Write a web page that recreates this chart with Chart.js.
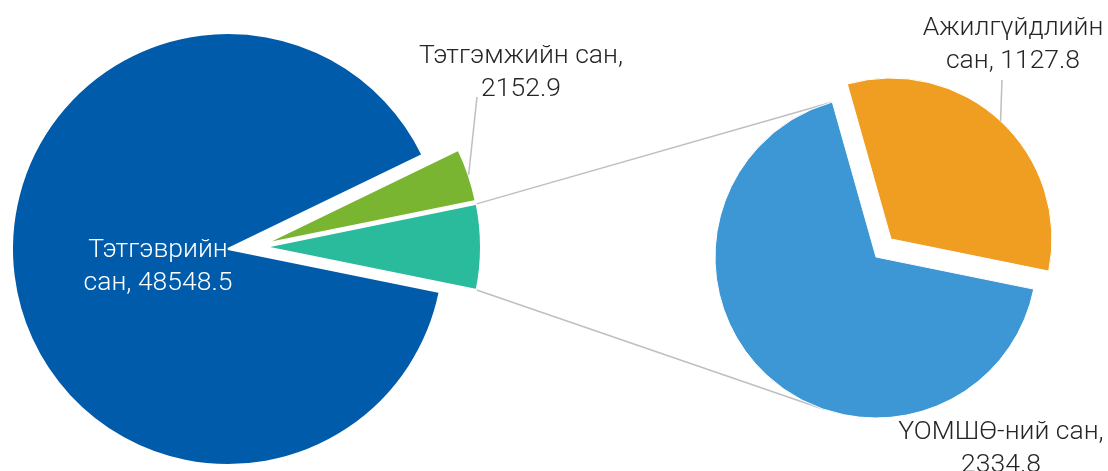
<!DOCTYPE html>
<html lang="mn">
<head>
<meta charset="UTF-8">
<title>Сангийн зарлага</title>
<script src="https://cdn.jsdelivr.net/npm/chart.js@4.4.1/dist/chart.umd.min.js"></script>
<style>
  body { margin: 0; background: #fff; }
  #wrap { position: relative; width: 1108px; height: 471px; }
  canvas { position: absolute; left: 0; top: 0; }
</style>
</head>
<body>
<div id="wrap">
  <canvas id="main" width="1108" height="471"></canvas>
  <canvas id="sub" width="1108" height="471"></canvas>
</div>
<script>
// main pie
const mainLabels = ['Тэтгэврийн сан', 'Тэтгэмжийн сан'];
const mainValues = [48548.5, 2152.9];
// second pie (the "other" slice of the main pie)
const subLabels = ['Ажилгүйдлийн сан', 'ҮОМШӨ-ний сан'];
const subValues = [1127.8, 2334.8];

const otherValue = subValues.reduce((a, b) => a + b, 0);

const FONT = '300 26.5px Roboto';
const TEXT = '#262626';
const LINE = '#bfbfbf';

// move exploded slices away from the centre
const explode = {
  id: 'explode',
  afterDatasetUpdate(chart, args, opts) {
    chart.getDatasetMeta(0).data.forEach((arc, i) => {
      const d = opts.shift[i] || [0, 0];
      arc.x += d[0];
      arc.y += d[1];
    });
  }
};

function edgePoint(arc, angle) {
  return { x: arc.x + Math.cos(angle) * arc.outerRadius, y: arc.y + Math.sin(angle) * arc.outerRadius };
}

// data labels, wrapped like excel does it
const sliceLabels = {
  id: 'sliceLabels',
  afterDraw(chart, args, opts) {
    const ctx = chart.ctx;
    const meta = chart.getDatasetMeta(0);
    ctx.save();
    ctx.font = FONT;
    ctx.textAlign = 'center';
    opts.items.forEach(it => {
      const arc = meta.data[it.index];
      if (it.leader) {
        const mid = (arc.startAngle + arc.endAngle) / 2;
        const p = edgePoint(arc, mid);
        ctx.strokeStyle = LINE;
        ctx.lineWidth = 1.5;
        ctx.beginPath();
        ctx.moveTo(p.x, p.y);
        ctx.lineTo(it.leader[0], it.leader[1]);
        ctx.stroke();
      }
      const words = (chart.data.labels[it.index] + ', ' + chart.data.datasets[0].data[it.index].toFixed(1)).split(' ');
      const lines = [words.slice(0, it.split).join(' '), words.slice(it.split).join(' ')];
      ctx.fillStyle = it.color || TEXT;
      lines.forEach((l, k) => ctx.fillText(l, it.x, it.y + k * 33));
    });
    ctx.restore();
  }
};

const mainChart = new Chart(document.getElementById('main'), {
  type: 'pie',
  data: {
    labels: [...mainLabels, 'Бусад'],
    datasets: [{
      data: [...mainValues, otherValue],
      backgroundColor: ['#005BAA', '#7AB532', '#29BB9C'],
      borderColor: '#fff',
      borderWidth: 2,
      radius: 216
    }]
  },
  options: {
    responsive: false,
    animation: false,
    events: [],
    rotation: 101.5,
    layout: { padding: { left: 0, top: 33, right: 652, bottom: 6 } },
    plugins: {
      legend: { display: false },
      tooltip: { enabled: false },
      explode: { shift: [[0, 0], [36, -5], [37, -2]] },
      sliceLabels: {
        items: [
          { index: 0, split: 1, x: 158, y: 257, color: '#fff' },
          { index: 1, split: 2, x: 521, y: 63, leader: [477, 97] }
        ]
      }
    }
  },
  plugins: [explode, sliceLabels]
});

// lines from the "other" slice to the second pie, tangent to it
const connectors = {
  id: 'connectors',
  beforeDatasetsDraw(chart) {
    const other = mainChart.getDatasetMeta(0).data[2];
    const base = chart.getDatasetMeta(0).data[1];
    const c = { x: base.x, y: base.y }, r = base.outerRadius;
    const ctx = chart.ctx;
    ctx.save();
    ctx.strokeStyle = LINE;
    ctx.lineWidth = 1.5;
    [[other.startAngle, -1], [other.endAngle, 1]].forEach(([a, side]) => {
      const p = edgePoint(other, a);
      const d = Math.hypot(c.x - p.x, c.y - p.y);
      const phi = Math.atan2(c.y - p.y, c.x - p.x) + side * Math.asin(r / d);
      const len = Math.sqrt(d * d - r * r);
      ctx.beginPath();
      ctx.moveTo(p.x, p.y);
      ctx.lineTo(p.x + Math.cos(phi) * len, p.y + Math.sin(phi) * len);
      ctx.stroke();
    });
    ctx.restore();
  }
};

new Chart(document.getElementById('sub'), {
  type: 'pie',
  data: {
    labels: subLabels,
    datasets: [{
      data: subValues,
      backgroundColor: ['#F09E22', '#3D97D4'],
      borderColor: '#fff',
      borderWidth: 1,
      radius: 161
    }]
  },
  options: {
    responsive: false,
    animation: false,
    events: [],
    rotation: -15.75,
    layout: { padding: { left: 715, top: 96, right: 71, bottom: 53 } },
    plugins: {
      legend: { display: false },
      tooltip: { enabled: false },
      explode: { shift: [[15, -18], [0, 0]] },
      sliceLabels: {
        items: [
          { index: 0, split: 1, x: 1013, y: 35, leader: [1002, 80] },
          { index: 1, split: 2, x: 1001, y: 439 }
        ]
      }
    }
  },
  plugins: [explode, sliceLabels, connectors]
});
</script>
</body>
</html>
